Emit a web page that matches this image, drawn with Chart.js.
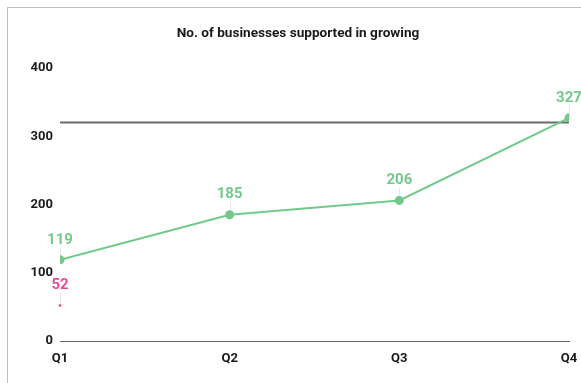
<!DOCTYPE html>
<html>
<head>
<meta charset="utf-8">
<script src="https://cdn.jsdelivr.net/npm/chart.js@4"></script>
<style>
  html, body { margin: 0; padding: 0; background: #fff; }
  #wrap { position: relative; width: 581px; height: 383px; overflow: hidden; }
  #card { position: absolute; left: 7px; top: 7px; width: 620px; height: 420px; border-left: 1px solid #bdbdbd; border-top: 1px solid #bdbdbd; }
  #myChart { position: absolute; left: 0; top: 0; }
</style>
</head>
<body>
<div id="wrap">
  <div id="card"></div>
  <canvas id="myChart" width="581" height="383"></canvas>
</div>
<script>
const titleText = "No. of businesses supported in growing";
const quarters = ["Q1", "Q2", "Q3", "Q4"];
const supported = [119, 185, 206, 327];
const otherSeries = [52, null, null, null];
const target = [320, 320, 320, 320];
const yMax = 400;
const yStep = 100;

const green = "#73c98a";
const pink = "#ee4a98";
const tickFont = { family: "Roboto", size: 13, weight: "bold" };

// stems under the value labels, drawn before the points
const pointLabels = {
  id: "pointLabels",
  beforeDatasetsDraw(chart) {
    const ctx = chart.ctx;
    chart.data.datasets.forEach((ds, i) => {
      if (!ds.showLabels) return;
      chart.getDatasetMeta(i).data.forEach((pt, j) => {
        if (ds.data[j] == null) return;
        ctx.save();
        ctx.strokeStyle = "#e6e6e6";
        ctx.lineWidth = 1;
        ctx.beginPath();
        ctx.moveTo(Math.round(pt.x) + 0.5, pt.y);
        ctx.lineTo(Math.round(pt.x) + 0.5, pt.y - 13);
        ctx.stroke();
        ctx.restore();
      });
    });
  },
  afterDatasetsDraw(chart) {
    const ctx = chart.ctx;
    chart.data.datasets.forEach((ds, i) => {
      if (!ds.showLabels) return;
      chart.getDatasetMeta(i).data.forEach((pt, j) => {
        const v = ds.data[j];
        if (v == null) return;
        ctx.save();
        ctx.fillStyle = ds.borderColor;
        ctx.font = "bold 15px Roboto";
        ctx.textAlign = "center";
        ctx.textBaseline = "middle";
        ctx.fillText(String(v), pt.x, pt.y - 20);
        ctx.restore();
      });
    });
  },
};

const chartTitle = {
  id: "chartTitle",
  afterDraw(chart) {
    const ctx = chart.ctx;
    ctx.save();
    ctx.fillStyle = "#1a1a1a";
    ctx.font = "bold 13.6px Roboto";
    ctx.textAlign = "center";
    ctx.textBaseline = "middle";
    ctx.fillText(titleText, 298, 34);
    ctx.restore();
  },
};

const ctx = document.getElementById("myChart");

new Chart(ctx, {
  type: "line",
  data: {
    labels: quarters,
    datasets: [
      {
        label: "Supported",
        data: supported,
        borderColor: green,
        backgroundColor: green,
        borderWidth: 2,
        pointRadius: 3.5,
        pointHoverRadius: 3.5,
        showLabels: true,
        clip: { left: 0, right: 0, top: 20, bottom: 20 },
      },
      {
        label: "Other",
        data: otherSeries,
        borderColor: pink,
        backgroundColor: pink,
        borderWidth: 2,
        pointRadius: 1,
        pointBorderWidth: 1,
        showLabels: true,
      },
      {
        label: "Target",
        data: target,
        borderColor: "#6b6b6b",
        borderWidth: 2,
        pointRadius: 0,
        pointHoverRadius: 0,
      },
    ],
  },
  options: {
    responsive: false,
    animation: false,
    events: [],
    layout: { padding: { top: 68, right: 7, left: 0, bottom: 0 } },
    plugins: {
      legend: { display: false },
      title: { display: false },
      tooltip: { enabled: false },
    },
    scales: {
      x: {
        type: "category",
        offset: false,
        grid: { display: false, drawTicks: false },
        border: { display: true, color: "#666", width: 1 },
        ticks: {
          color: "#1a1a1a",
          font: tickFont,
          padding: 10,
          maxRotation: 0,
          autoSkip: false,
        },
        afterFit(scale) {
          scale.height = 42;
          scale.paddingRight = 12;
        },
      },
      y: {
        min: 0,
        max: yMax,
        grid: { display: false, drawTicks: false },
        border: { display: false },
        ticks: {
          stepSize: yStep,
          color: "#1a1a1a",
          font: tickFont,
          padding: 7,
        },
        afterFit(scale) {
          scale.width = 60;
        },
      },
    },
  },
  plugins: [pointLabels, chartTitle],
});
</script>
</body>
</html>
